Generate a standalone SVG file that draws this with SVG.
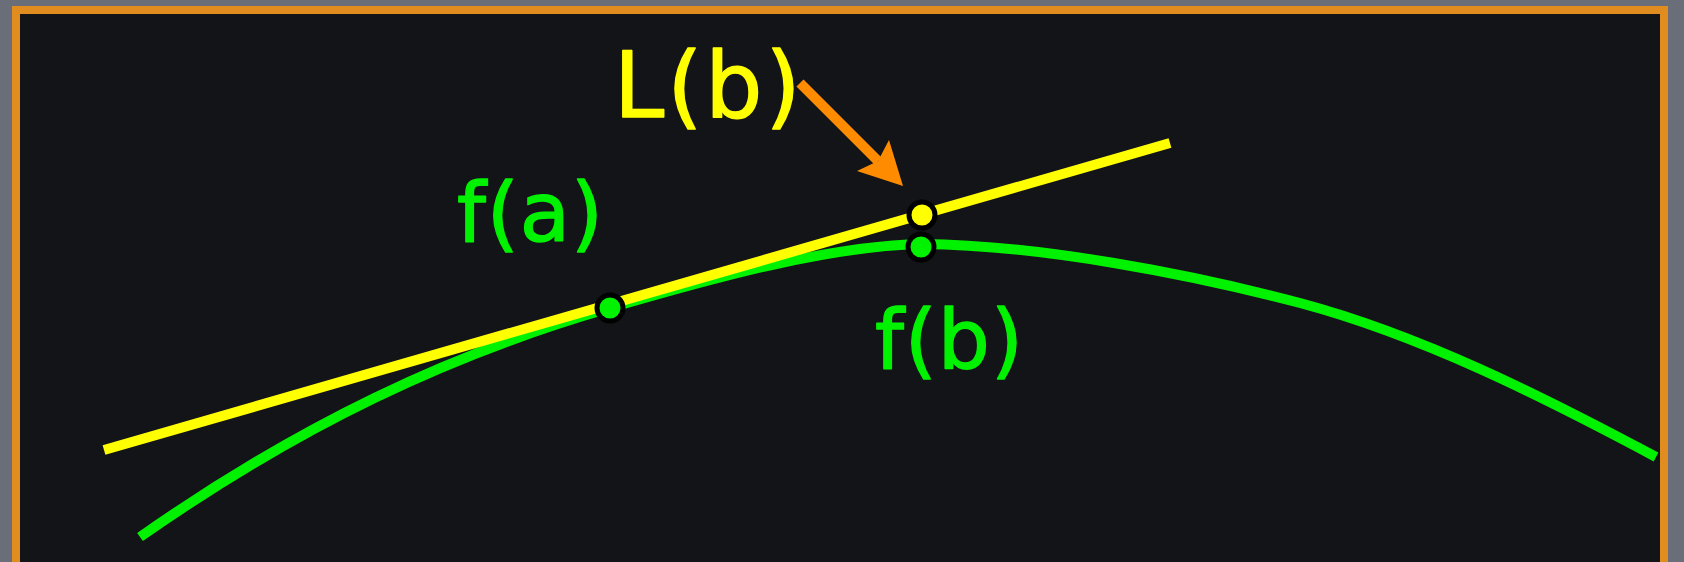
<svg xmlns="http://www.w3.org/2000/svg" width="1684" height="562" viewBox="0 0 1684 562">
  <style>
    .lbl { font-family: "DejaVu Sans", "Liberation Sans", sans-serif; stroke-width: 1.5; stroke-linejoin: round; stroke-linecap: round; }
    .green { fill: #00F200; stroke: #00F200; }
    .yellow { fill: #FFFF00; stroke: #FFFF00; }
    .dot { stroke: #000000; stroke-width: 5; }
  </style>
  <rect x="0" y="0" width="1684" height="562" fill="#6a6e78"/>
  <rect id="frame" x="16" y="10" width="1648" height="556" fill="#131417" stroke="#E08C1E" stroke-width="8"/>
  <g id="connectors">
    <path id="curve" d="M140,537 C300,425 450,354 610,308 C720,276 830,246 922,244 C1040,245 1190,274 1300,303 C1420,335 1540,395 1656,457" fill="none" stroke="#00F200" stroke-width="10"/>
    <line id="tangent" x1="104" y1="450" x2="1170" y2="143" stroke="#FFFF00" stroke-width="10"/>
    <g id="arrow">
      <line x1="800" y1="83" x2="878" y2="161" stroke="#FF8C00" stroke-width="10"/>
      <polygon points="903,186 889,140 878,161 857,171" fill="#FF8C00"/>
    </g>
  </g>
  <g id="point-a">
    <circle class="dot" fill="#00F200" cx="610" cy="308" r="13"/>
  </g>
  <g id="point-Lb">
    <circle class="dot" fill="#FFFF00" cx="922" cy="215" r="13"/>
  </g>
  <g id="point-fb">
    <circle class="dot" fill="#00F200" cx="921" cy="247" r="13"/>
  </g>
  <g id="label-Lb">
    <text class="lbl yellow" x="614" y="117" font-size="90" letter-spacing="3">L(b)</text>
  </g>
  <g id="label-fa">
    <text class="lbl green" x="457" y="241" font-size="82" letter-spacing="1">f(a)</text>
  </g>
  <g id="label-fb">
    <text class="lbl green" x="875" y="368" font-size="82" letter-spacing="1">f(b)</text>
  </g>
</svg>
